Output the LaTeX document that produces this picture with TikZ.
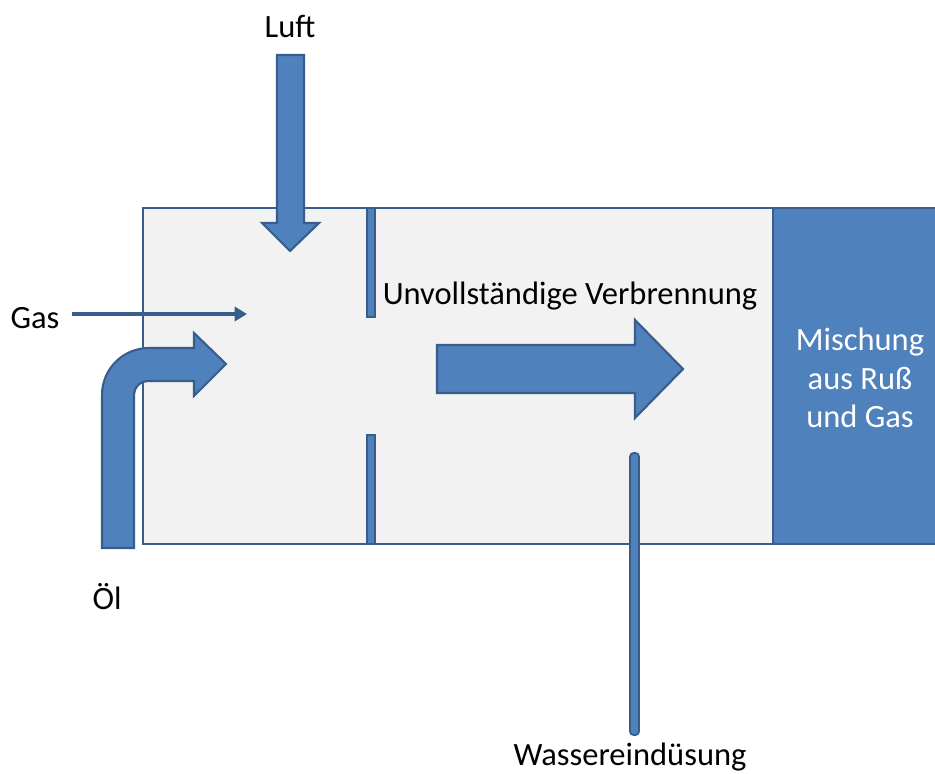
\documentclass[tikz,border=0pt]{standalone}
\usepackage{fontspec}
\setmainfont{Carlito}
\usetikzlibrary{arrows.meta, positioning}
\definecolor{ofcBlue}{RGB}{79,129,189}
\definecolor{ofcLine}{RGB}{56,93,138}
\definecolor{ofcGrey}{RGB}{242,242,242}

\begin{document}
\begin{tikzpicture}[
    x=0.02cm, y=-0.02cm,
    label/.style={font=\fontsize{18.5}{21}\selectfont, text=black, inner sep=0pt},
    blockarrow/.style={draw=ofcLine, fill=ofcBlue, line width=1.2pt, line join=miter},
    wallbar/.style={draw=ofcLine, fill=ofcBlue, line width=1pt}
]
\useasboundingbox (0,0) rectangle (935,773);

% Reactor
\draw[fill=ofcGrey, draw=ofcLine, line width=1.4pt] (143,208) rectangle (773,544);
\draw[fill=ofcBlue, draw=ofcLine, line width=1.4pt] (773,208) rectangle (940,544);
\node (mix) [label, text=white, align=center, font=\fontsize{18.5}{21.8}\selectfont] at (860,378) {Mischung\\aus Ruß\\und Gas};

% Wall
\draw[wallbar] (367,208) rectangle (375,317);
\draw[wallbar] (367,435) rectangle (375,544);

% Luft
\node (luft) [label] at (290,26) {Luft};
\draw[blockarrow] (277,55) -- (304,55) -- (304,223) -- (319,223) -- (290,251)
    -- (262,223) -- (277,223) -- cycle;

% Gas
\node (gas) [label] at (35,318) {Gas};
\coordinate (gasend) at (247,314);
\draw[ofcLine, line width=2.3pt, -{Triangle[length=7pt, width=8pt]}] (72,314) -- (gasend);

% Oel
\node (oel) [label] at (107,597) {Öl};
\draw[blockarrow] (102,548) -- (102,395) .. controls (102,369) and (123,348) .. (149,348)
    -- (194,348) -- (194,333) -- (226,364) -- (194,396) -- (194,381) -- (149,381)
    .. controls (140,381) and (134,387) .. (134,396) -- (134,548) -- cycle;

% Verbrennung
\node (burn) [label] at (570,296) {Unvollständige Verbrennung};
\draw[blockarrow] (437,345) -- (635,345) -- (635,320) -- (683,369) -- (635,418)
    -- (635,393) -- (437,393) -- cycle;

% Wasser
\node (water) [label] at (630,757) {Wassereindüsung};
\draw[wallbar, rounded corners=2pt] (630,453) rectangle (639,735);

\end{tikzpicture}
\end{document}
